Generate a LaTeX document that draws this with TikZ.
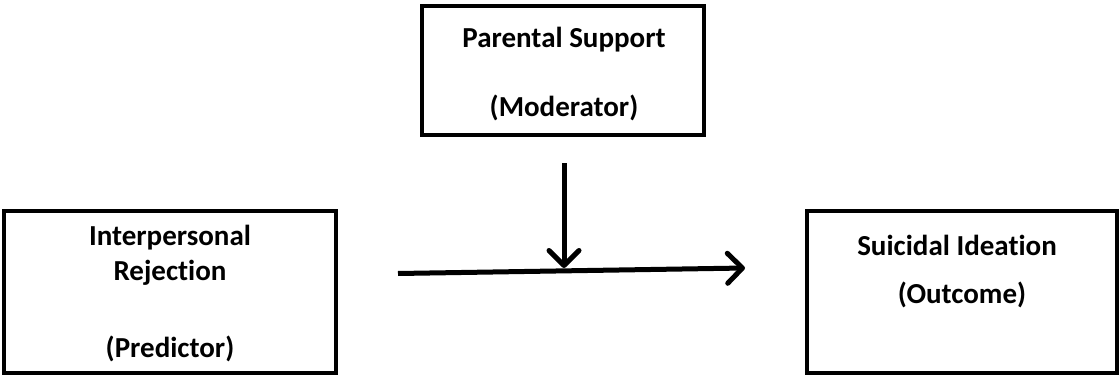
\documentclass[tikz,border=0pt]{standalone}
\usepackage{fontspec}
\setmainfont[Ligatures={NoCommon}]{Carlito}
\usetikzlibrary{arrows.meta}
\tikzset{
  box/.style={draw=black, line width=4pt, rectangle, inner sep=0pt},
  lbl/.style={anchor=base, inner sep=0pt, font=\fontsize{29}{35}\selectfont\bfseries},
  arr/.style={line width=5pt, -{Straight Barb[length=15pt,width=30pt,round]}},
}
\begin{document}
\begin{tikzpicture}[x=1pt,y=-1pt]
\useasboundingbox (0,0) rectangle (1120,375);
% boxes
\node[box, minimum width=282pt, minimum height=129pt] (mod) at (563,70.5) {};
\node[box, minimum width=332pt, minimum height=162pt] (pred) at (170,292) {};
\node[box, minimum width=310pt, minimum height=162pt] (out) at (962,292) {};
% texts
\node[lbl] (m1) at (564,47) {Parental Support};
\node[lbl] (m2) at (564,116.5) {(Moderator)};
\node[lbl] (p1) at (170,245) {Interpersonal};
\node[lbl] (p2) at (170,280) {Rejection};
\node[lbl] (p3) at (170,357) {(Predictor)};
\node[lbl] (o1) at (957,255) {Suicidal Ideation};
\node[lbl] (o2) at (962,303) {(Outcome)};
% connectors
\coordinate (hs) at (398,273.5);
\coordinate (he) at (745,268);
\coordinate (vs) at (564,163);
\coordinate (ve) at (564,268);
\draw[arr, line cap=butt] (hs) -- (he);
\draw[arr, line cap=butt] (vs) -- (ve);
\end{tikzpicture}
\end{document}
